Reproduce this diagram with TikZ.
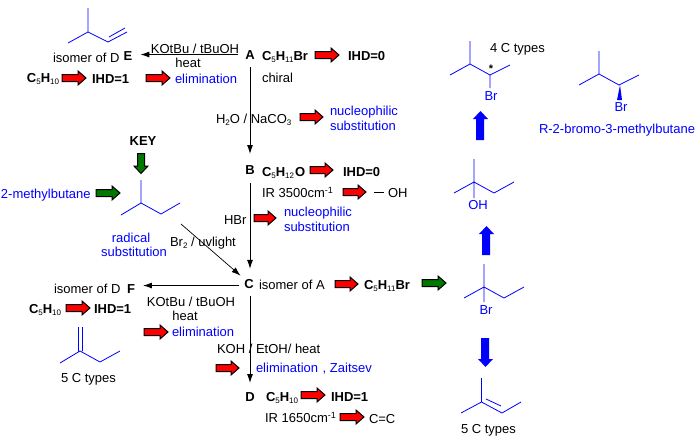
\documentclass[tikz,border=0pt]{standalone}
\usepackage{fontspec}
\setmainfont{Liberation Sans}
\definecolor{rblue}{RGB}{0,0,255}
\definecolor{rgreen}{RGB}{0,120,0}
\definecolor{rred}{RGB}{255,0,0}
\newcommand{\lowr}[1]{\raisebox{-2.5pt}{\fontsize{8}{8}\selectfont\mdseries #1}}
\newcommand{\upr}[1]{\raisebox{3.5pt}{\fontsize{9}{9}\selectfont #1}}
\newcommand{\hfat}[4]{%
  \pgfmathsetmacro{\hb}{#4-8}%
  \draw[fat,fill=#1] (#2,#3-3.5) -- (\hb,#3-3.5) -- (\hb,#3-7) -- (#4,#3) -- (\hb,#3+7) -- (\hb,#3+3.5) -- (#2,#3+3.5) -- cycle;}
\tikzset{
  fat/.style={draw=black,line width=1pt,line join=miter},
  txt/.style={inner sep=0pt,outer sep=0pt,anchor=base west,font=\fontsize{13}{13}\selectfont,text=black},
  ctxt/.style={txt,anchor=base},
  btxt/.style={txt,text=rblue},
  cbtxt/.style={ctxt,text=rblue},
  bold/.style={txt,font=\fontsize{13}{13}\selectfont\bfseries},
  lab/.style={ctxt,font=\fontsize{13}{13}\selectfont\bfseries},
  conn/.style={draw=black,line width=1pt,-{Latex[length=9pt,width=6pt]}},
  mol/.style={draw=rblue,line width=0.8pt},
  bigarrow/.style={fill=rblue},
}
\usetikzlibrary{arrows.meta,calc}
\begin{document}
\begin{tikzpicture}[x=1pt,y=-1pt]
\useasboundingbox (0,0) rectangle (698,442);
% nodes for labelled compounds
\node[lab] (A) at (250,59) {A};
\node[lab] (B) at (250,174) {B};
\node[lab] (C) at (249,288) {C};
\node[lab] (D) at (250,401) {D};
\node[lab] (E) at (128,60) {E};
\node[lab] (F) at (131,293) {F};
\coordinate (diag) at (181,224);
% connectors
\draw[conn,shorten <=7pt,shorten >=8pt] (A.west) -- (A.west -| E.east);
\draw[conn,shorten <=8pt,shorten >=11pt] (A.south) -- (A.south |- B.north);
\draw[conn,shorten <=9pt,shorten >=10pt] (B.south) -- (B.south |- C.north);
\draw[conn,shorten >=5pt,line width=0.7pt] (diag) -- (C.north west);
\coordinate (cw) at ([shift={(-5pt,-2pt)}]C.west);
\draw[conn,shorten >=8pt] (cw) -- (cw -| F.east);
\draw[conn,shorten <=8pt,shorten >=9pt] (B.south |- C.south) -- (B.south |- D.north);
% texts upper left
\node[ctxt] at (195,53) {KOtBu / tBuOH};
\node[ctxt] at (188,67) {heat};
\node[txt] at (53,62) {isomer of D};
\node[bold] at (262,60) {C\lowr{5}H\lowr{11}Br};
\node[bold] at (348,60) {IHD=0};
\node[txt] at (262,82) {chiral};
\node[bold] at (27,82) {C\lowr{5}H\lowr{10}};
\node[bold] at (92,83) {IHD=1};
\node[btxt] at (175,83) {elimination};
\node[txt] at (216,123) {H\lowr{2}O / NaCO\lowr{3}};
\node[btxt] at (330,115) {nucleophilic};
\node[btxt] at (330,130) {substitution};
\node[bold] at (262,176) {C\lowr{5}H\lowr{12}\hspace{1pt}O};
\node[bold] at (343,176) {IHD=0};
\node[txt] at (262,197) {IR 3500cm\upr{-1}};
\node[txt] at (374,197) {\rule[3.8pt]{10pt}{0.9pt}\hspace{4pt}OH};
\node[lab] at (143,145) {KEY};
\node[btxt] at (1,198) {2-methylbutane};
\node[txt] at (224,224) {HBr};
\node[btxt] at (284,216) {nucleophilic};
\node[btxt] at (284,231) {substitution};
\node[cbtxt] at (131,242) {radical};
\node[cbtxt] at (134,256) {substitution};
\node[txt] at (170,246) {Br\lowr{2} / uvlight};
\node[txt] at (259,289) {isomer of A};
\node[bold] at (364,289) {C\lowr{5}H\lowr{11}Br};
\node[txt] at (54,293) {isomer of D};
\node[bold] at (29,313) {C\lowr{5}H\lowr{10}};
\node[bold] at (94,313) {IHD=1};
\node[ctxt] at (191,306) {KOtBu / tBuOH};
\node[ctxt] at (185,320) {heat};
\node[btxt] at (172,336) {elimination};
\node[txt] at (61,382) {5 C types};
\node[txt] at (217,353) {KOH / EtOH/ heat};
\node[btxt] at (256,372) {elimination\hspace{1pt} , Zaitsev};
\node[bold] at (266,401) {C\lowr{5}H\lowr{10}};
\node[bold] at (331,401) {IHD=1};
\node[txt] at (265,422) {IR 1650cm\upr{-1}};
\node[txt] at (369,423) {C=C};
% right texts
\node[txt] at (490,52) {4 C types};
\node[cbtxt] at (491,100) {Br};
\node[cbtxt] at (621,111) {Br};
\node[btxt] at (539,133) {R-2-bromo-3-methylbutane};
\node[cbtxt] at (478,209) {OH};
\node[cbtxt] at (486,314) {Br};
\node[txt] at (461,433) {5 C types};
\node[ctxt,font=\fontsize{11}{11}\selectfont\bfseries] at (491,72) {*};
% red arrows
\hfat{rred}{315}{55}{339}
\hfat{rred}{62}{78}{86}
\hfat{rred}{146}{78}{170}
\hfat{rred}{300}{117}{323}
\hfat{rred}{310}{170}{333}
\hfat{rred}{343}{192}{366}
\hfat{rred}{254}{218}{276}
\hfat{rred}{335}{284}{358}
\hfat{rred}{66}{308}{90}
\hfat{rred}{144}{332}{168}
\hfat{rred}{216}{368}{239}
\hfat{rred}{301}{395}{325}
\hfat{rred}{340}{417}{364}
% green arrows
\hfat{rgreen}{96}{193}{120}
\hfat{rgreen}{422}{283}{446}
\draw[fat,fill=rgreen] (137.5,153.5) -- (144.5,153.5) -- (144.5,166) -- (148,166) -- (141,173.5) -- (134,166) -- (137.5,166) -- cycle;
% blue block arrows
\fill[bigarrow] (476,140) -- (484,140) -- (484,119) -- (488,119) -- (480.5,111) -- (473,119) -- (476,119) -- cycle;
\fill[bigarrow] (482,255) -- (490,255) -- (490,234) -- (494,234) -- (486.5,226) -- (479,234) -- (482,234) -- cycle;
\fill[bigarrow] (481,338) -- (489,338) -- (489,359) -- (493,359) -- (485.5,367) -- (478,359) -- (481,359) -- cycle;
% molecules
\draw[mol] (88,8) -- (88,32) (68,43) -- (88,32) -- (108,42) -- (127,32) (109,37) -- (125,28);
\draw[mol] (141,180) -- (141,203) (121,215) -- (141,203) -- (161,214) -- (180,203);
\draw[mol] (470,41) -- (470,64) (450,75) -- (470,64) -- (490,75) -- (510,65) (490,75) -- (490,88);
\draw[mol] (599,51) -- (599,74) (579,85) -- (599,74) -- (619,85) -- (639,75);
\fill[rblue] (620,85) -- (617,100) -- (622,100) -- cycle;
\draw[mol] (474,159) -- (474,198) (454,193) -- (474,182) -- (494,193) -- (514,182);
\draw[mol] (484,264) -- (484,302) (464,298) -- (484,287) -- (504,298) -- (524,287);
\draw[mol] (78.5,327) -- (78.5,351) (82.5,327) -- (82.5,351) (60,363) -- (80,351) -- (100,362) -- (120,351);
\draw[mol] (481.5,378) -- (481.5,402) (461,413) -- (481.5,402) -- (502,413) -- (521,402) (486,399) -- (501,406);
\end{tikzpicture}
\end{document}
